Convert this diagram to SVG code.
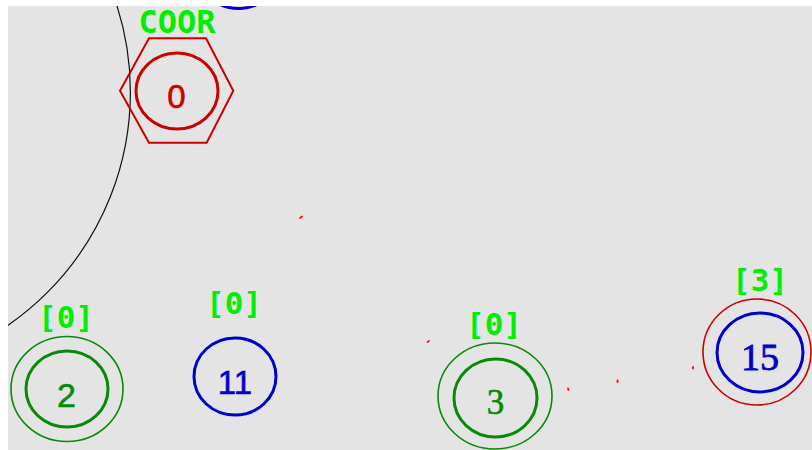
<svg xmlns="http://www.w3.org/2000/svg" width="812" height="450" viewBox="0 0 812 450">
<defs>
<clipPath id="area"><rect x="8" y="6" width="804" height="444"/></clipPath>
<style>
.tag{font-family:"DejaVu Sans Mono",monospace;fill:#00ee00;text-anchor:middle;font-weight:bold}
.sans{font-family:"Liberation Sans",Arial,sans-serif;text-anchor:middle}
.serif{font-family:"Liberation Serif","Times New Roman",serif;text-anchor:middle}
.in{fill:none;stroke-width:3}
.out{fill:none;stroke-width:1.6}
.red{stroke:#cc0000}
.grn{stroke:#088a08}
.blu{stroke:#0000cc}
.speck{stroke:#ff1a1a;stroke-width:2;stroke-linecap:round}
</style>
</defs>
<rect x="0" y="0" width="812" height="450" fill="#ffffff"/>
<rect x="8" y="6" width="804" height="444" fill="#e4e4e4"/>
<g clip-path="url(#area)">
<circle cx="-153" cy="92" r="283.4" fill="none" stroke="#111" stroke-width="1.2"/>
<g id="node-top">
<ellipse cx="238.5" cy="-30" rx="41" ry="38.5" class="in blu"/>
</g>
<g id="node-0">
<text x="177" y="33" class="tag" font-size="32">COOR</text>
<polygon points="120,90.7 149,38.3 206,38.3 233.3,90.7 206.7,142.7 149,142.7" fill="none" stroke="#cc0000" stroke-width="2"/>
<ellipse cx="177" cy="91" rx="41" ry="38" class="in red"/>
<text x="176.5" y="107.5" class="sans" font-size="33" fill="#cc0000" stroke="#cc0000" stroke-width="0.6">0</text>
</g>
<g id="node-2">
<text x="66" y="328" class="tag" font-size="31">[0]</text>
<ellipse cx="67" cy="389" rx="56" ry="52.5" class="out grn"/>
<ellipse cx="67" cy="389" rx="41" ry="38" class="in grn"/>
<text x="66.5" y="406.5" class="sans" font-size="34" fill="#088a08" stroke="#088a08" stroke-width="0.6">2</text>
</g>
<g id="node-11">
<text x="234" y="314" class="tag" font-size="31">[0]</text>
<ellipse cx="235" cy="376.5" rx="41" ry="38.5" class="in blu"/>
<text x="235" y="393.5" class="sans" font-size="33" fill="#0000cc" stroke="#0000cc" stroke-width="0.6">11</text>
</g>
<g id="node-3">
<text x="494" y="335" class="tag" font-size="31">[0]</text>
<ellipse cx="495" cy="396" rx="57" ry="53" class="out grn"/>
<ellipse cx="495.5" cy="398" rx="41.5" ry="39" class="in grn"/>
<text x="495.5" y="413.5" class="serif" font-size="35" fill="#088a08" stroke="#088a08" stroke-width="0.6">3</text>
</g>
<g id="node-15">
<text x="760" y="291" class="tag" font-size="31">[3]</text>
<ellipse cx="757" cy="352" rx="54" ry="53" class="out red"/>
<ellipse cx="760" cy="352.5" rx="43" ry="39.5" class="in blu"/>
<text x="760" y="370" class="serif" font-size="38" fill="#0000cc" stroke="#0000cc" stroke-width="0.8">15</text>
</g>
<g id="connectors">
<line x1="300" y1="218" x2="302" y2="216.5" class="speck"/>
<line x1="427.5" y1="342" x2="429" y2="341" class="speck"/>
<line x1="568" y1="388.5" x2="568.5" y2="390" class="speck"/>
<line x1="617.5" y1="380.5" x2="617.5" y2="382" class="speck"/>
<line x1="693" y1="367" x2="693" y2="368.5" class="speck"/>
</g>
</g>
</svg>
